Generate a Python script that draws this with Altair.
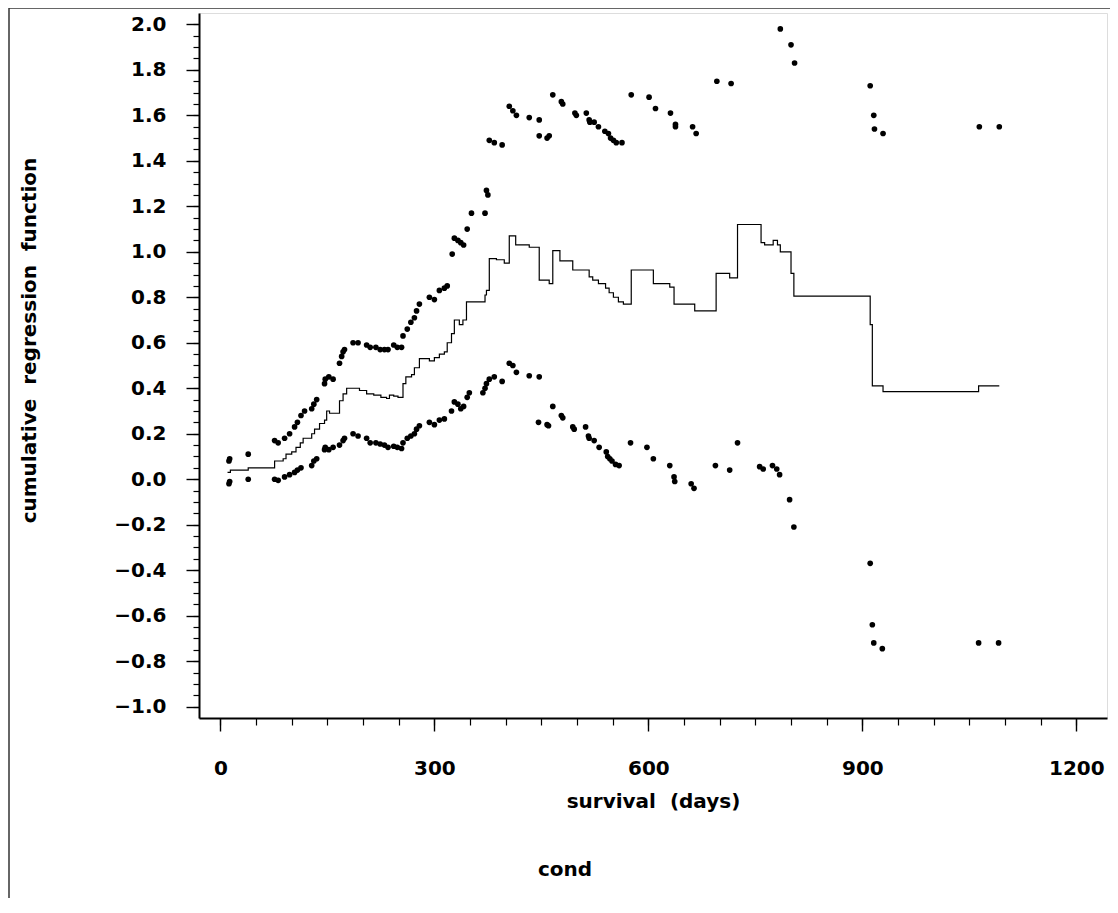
import altair as alt
import pandas as pd

# ---- data ----
mid_days = [10, 14, 39, 76, 88, 92, 100, 106, 112, 116, 128, 132, 139, 146, 149, 153,
            167, 172, 177, 195, 205, 215, 225, 233, 237, 243, 249, 256, 260, 268, 272,
            279, 293, 300, 307, 314, 318, 324, 328, 335, 340, 345, 371, 373, 377, 387,
            398, 405, 414, 433, 447, 461, 466, 476, 494, 517, 522, 530, 540, 545, 551,
            558, 565, 576, 607, 630, 636, 665, 695, 714, 725, 758, 763, 775, 781, 785,
            800, 804, 911, 914, 929, 1063, 1092]
mid_vals = [0.03, 0.04, 0.05, 0.08, 0.09, 0.11, 0.12, 0.14, 0.16, 0.18, 0.20, 0.22, 0.245,
            0.26, 0.30, 0.29, 0.345, 0.375, 0.40, 0.39, 0.375, 0.37, 0.36, 0.355, 0.37,
            0.365, 0.36, 0.42, 0.45, 0.46, 0.49, 0.53, 0.52, 0.535, 0.55, 0.56, 0.60,
            0.64, 0.70, 0.68, 0.70, 0.78, 0.81, 0.83, 0.97, 0.965, 0.95, 1.07, 1.03,
            1.02, 0.875, 0.86, 1.005, 0.96, 0.92, 0.89, 0.875, 0.86, 0.84, 0.82, 0.80,
            0.78, 0.77, 0.92, 0.86, 0.845, 0.77, 0.74, 0.905, 0.885, 1.12, 1.04, 1.03,
            1.05, 1.03, 1.00, 0.905, 0.805, 0.68, 0.41, 0.385, 0.41, 0.41]

up_days = [12, 13, 39, 76, 81, 90, 97, 104, 108, 113, 118, 128, 131, 135, 146, 147, 152,
           158, 167, 170, 172, 174, 186, 193, 205, 210, 218, 224, 230, 235, 243, 248,
           254, 256, 262, 267, 272, 275, 279, 293, 300, 307, 314, 318, 325, 328, 333,
           337, 341, 346, 352, 371, 373, 375, 377, 384, 395, 405, 410, 415, 433, 447,
           447, 458, 461, 466, 478, 480, 497, 499, 513, 517, 518, 524, 530, 539, 544,
           547, 551, 555, 563, 576, 601, 610, 631, 638, 638, 662, 667, 696, 716, 785,
           800, 805, 911, 916, 917, 929, 1064, 1092]
up_vals = [0.08, 0.09, 0.11, 0.17, 0.16, 0.18, 0.20, 0.23, 0.25, 0.28, 0.30, 0.31, 0.33,
           0.35, 0.42, 0.44, 0.45, 0.44, 0.51, 0.54, 0.56, 0.57, 0.60, 0.60, 0.59, 0.58,
           0.58, 0.57, 0.57, 0.57, 0.59, 0.58, 0.58, 0.63, 0.66, 0.69, 0.71, 0.74, 0.77,
           0.80, 0.79, 0.83, 0.84, 0.85, 0.99, 1.06, 1.05, 1.04, 1.03, 1.10, 1.17, 1.17,
           1.27, 1.25, 1.49, 1.48, 1.47, 1.64, 1.62, 1.60, 1.59, 1.58, 1.51, 1.50, 1.51,
           1.69, 1.66, 1.65, 1.61, 1.60, 1.61, 1.58, 1.57, 1.57, 1.55, 1.53, 1.52, 1.50,
           1.49, 1.48, 1.48, 1.69, 1.68, 1.63, 1.61, 1.56, 1.55, 1.55, 1.52, 1.75, 1.74,
           1.98, 1.91, 1.83, 1.73, 1.60, 1.54, 1.52, 1.55, 1.55]

lo_days = [12, 13, 39, 76, 81, 90, 97, 104, 108, 113, 128, 131, 135, 146, 147, 152, 158,
           167, 172, 174, 186, 193, 205, 210, 218, 224, 230, 235, 243, 248, 254, 256,
           262, 267, 272, 275, 279, 293, 300, 307, 314, 324, 328, 333, 337, 341, 346,
           349, 368, 371, 373, 377, 384, 395, 405, 410, 415, 433, 447, 446, 458, 460,
           466, 478, 480, 494, 496, 512, 516, 517, 524, 531, 541, 543, 546, 549, 554,
           559, 575, 598, 607, 630, 636, 637, 660, 664, 694, 714, 725, 756, 761, 774,
           780, 784, 798, 804, 911, 914, 916, 928, 1063, 1091]
lo_vals = [-0.02, -0.01, 0.0, 0.0, -0.005, 0.01, 0.02, 0.03, 0.04, 0.05, 0.06, 0.08, 0.09,
           0.13, 0.14, 0.13, 0.14, 0.15, 0.17, 0.18, 0.20, 0.19, 0.18, 0.16, 0.16, 0.155,
           0.15, 0.14, 0.145, 0.14, 0.135, 0.16, 0.18, 0.19, 0.20, 0.22, 0.235, 0.25,
           0.24, 0.26, 0.265, 0.30, 0.34, 0.33, 0.31, 0.32, 0.36, 0.38, 0.38, 0.40, 0.42,
           0.44, 0.45, 0.43, 0.51, 0.50, 0.47, 0.455, 0.45, 0.25, 0.24, 0.235, 0.32, 0.28,
           0.27, 0.23, 0.22, 0.23, 0.19, 0.18, 0.17, 0.14, 0.12, 0.10, 0.09, 0.08, 0.065,
           0.06, 0.16, 0.14, 0.09, 0.06, 0.01, -0.01, -0.02, -0.04, 0.06, 0.04, 0.16,
           0.055, 0.045, 0.06, 0.045, 0.02, -0.09, -0.21, -0.37, -0.64, -0.72, -0.745,
           -0.72, -0.72]

x_tick_labels = [0, 300, 600, 900, 1200]
y_tick_labels = [-1.0, -0.8, -0.6, -0.4, -0.2, 0.0, 0.2, 0.4, 0.6, 0.8, 1.0, 1.2, 1.4, 1.6, 1.8, 2.0]

# wide word spacing as in the original figure
x_title = "survival \u00a0(days)"
y_title = "cumulative \u00a0regression \u00a0function"
caption = "cond"

# ---- tables ----
mid_df = pd.DataFrame({"day": mid_days, "value": mid_vals})
pts_df = pd.concat([
    pd.DataFrame({"day": up_days, "value": up_vals, "band": "upper"}),
    pd.DataFrame({"day": lo_days, "value": lo_vals, "band": "lower"}),
])

FONT = "DejaVu Sans"
x_minor = list(range(0, 1201, 50))
y_minor = [round(-1.0 + 0.05 * i, 2) for i in range(61)]

x_scale = alt.Scale(domain=[-30, 1243], nice=False, zero=False)
y_scale = alt.Scale(domain=[-1.05, 2.05], nice=False, zero=False)

common = dict(
    grid=False, labelOverlap=False, labelFlush=False,
    labelFont=FONT, labelFontSize=20, labelFontWeight="bold", labelColor="black",
    tickColor="black", tickWidth=1.4, domainColor="black", domainWidth=2,
    titleFont=FONT, titleFontSize=20, titleFontWeight="bold", titleColor="black",
)

x_axis_major = alt.Axis(
    values=x_tick_labels, title=x_title, orient="bottom",
    labelExpr="format(datum.value, 'd')",
    tickSize=13, labelPadding=27,
    titleY=73, titleBaseline="top",
    **common,
)
y_axis_major = alt.Axis(
    values=y_tick_labels, title=y_title, orient="left",
    labelExpr="(datum.value < -0.001 ? '\u2212' : '') + format(abs(datum.value), '.1f')",
    tickSize=13, labelPadding=20,
    titleX=-160, titleY=327, titleAngle=-90, titleBaseline="bottom", titleAlign="center",
    **common,
)
x_axis_minor = alt.Axis(
    values=x_minor, title=None, orient="bottom", labels=False, domain=False,
    grid=False, tickSize=7, tickColor="black", tickWidth=1.2,
)
y_axis_minor = alt.Axis(
    values=y_minor, title=None, orient="left", labels=False, domain=False,
    grid=False, tickSize=6, tickColor="black", tickWidth=1.2,
)

line = alt.Chart(mid_df).mark_line(interpolate="step-after", color="black", strokeWidth=1.2).encode(
    x=alt.X("day:Q", scale=x_scale, axis=x_axis_major),
    y=alt.Y("value:Q", scale=y_scale, axis=y_axis_major),
)

points = alt.Chart(pts_df).mark_circle(color="black", size=32, opacity=1).encode(
    x=alt.X("day:Q", scale=x_scale, axis=x_axis_minor),
    y=alt.Y("value:Q", scale=y_scale, axis=y_axis_minor),
    detail="band:N",
)

# page frame lines of the scanned figure
frame_top = alt.Chart().mark_rule(color="#333333", strokeWidth=1.5).encode(
    x=alt.value(-190), x2=alt.value(919), y=alt.value(-5)
)
frame_left = alt.Chart().mark_rule(color="#333333", strokeWidth=1.5).encode(
    x=alt.value(-190), y=alt.value(-5), y2=alt.value(900)
)
caption_text = alt.Chart().mark_text(
    text=caption, font=FONT, fontSize=20, fontWeight="bold", color="black",
    align="center", baseline="middle",
).encode(x=alt.value(366), y=alt.value(857))

chart = alt.layer(line, points, frame_top, frame_left, caption_text).resolve_axis(
    x="independent", y="independent"
).properties(
    width=908,
    height=705,
    autosize=alt.AutoSizeParams(type="none"),
    padding={"left": 191, "top": 5, "right": 3, "bottom": 180},
).configure_view(stroke=None).configure(background="white")

chart.save("out.html", embed_options={"renderer": "svg", "actions": False})
